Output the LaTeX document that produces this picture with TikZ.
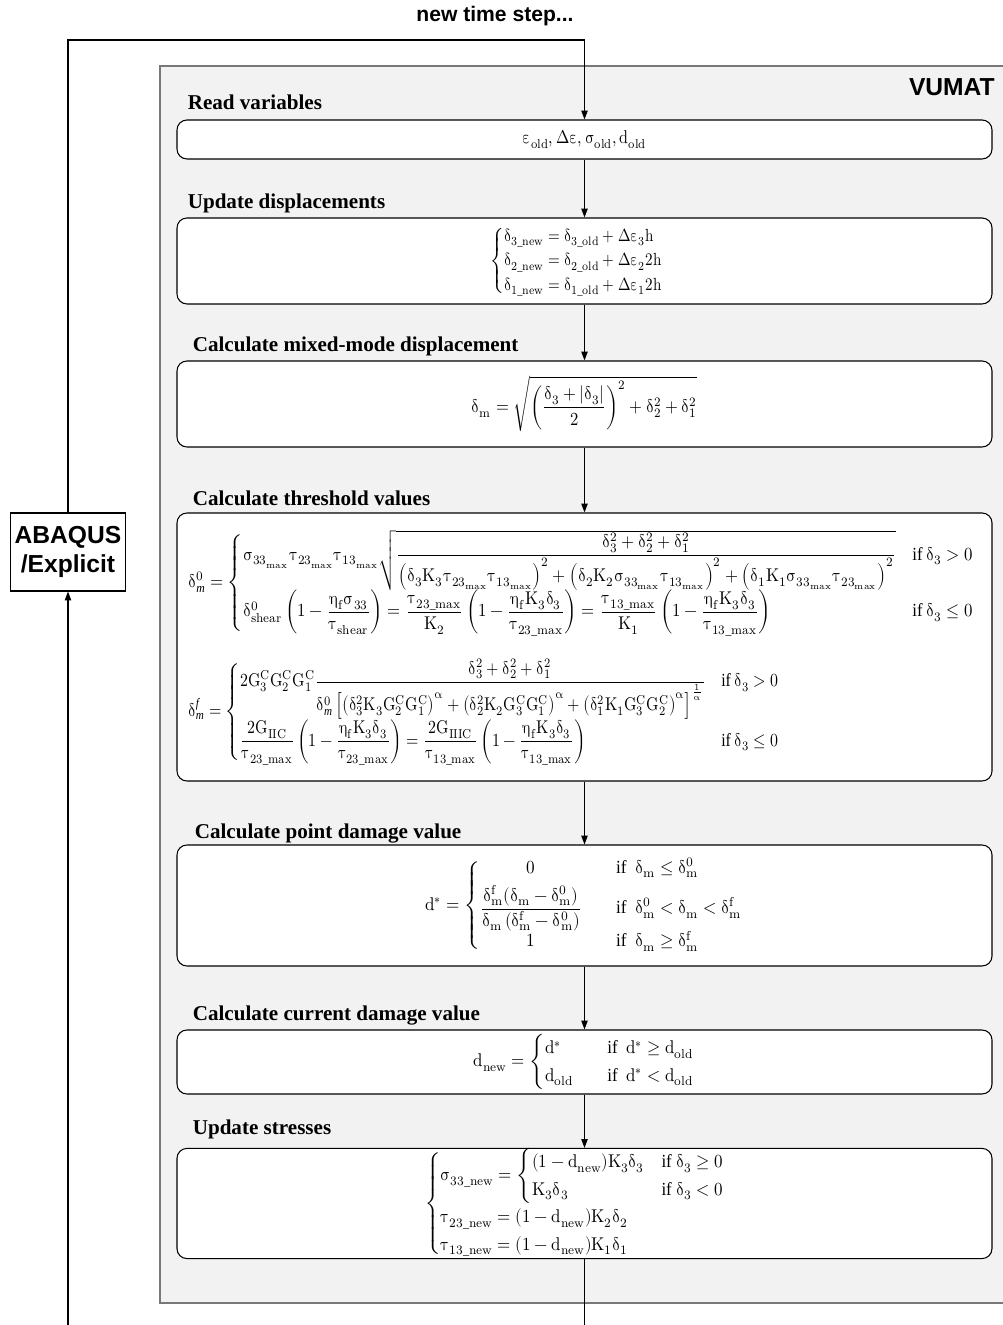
\documentclass[tikz,border=0pt]{standalone}
\usepackage{amsmath}
\usepackage{fontspec}
\usepackage[math-style=upright]{unicode-math}
\setmainfont{Liberation Serif}
\setmathfont{Latin Modern Math}
\newfontfamily\sansbf{Liberation Sans}
\usetikzlibrary{arrows.meta,positioning,calc}
\definecolor{PanelGray}{RGB}{242,242,242}
\definecolor{PanelEdge}{RGB}{120,120,120}
\newcommand{\squeeze}[2]{\scalebox{#1}[1]{#2}}

\tikzset{
  stepbox/.style={draw, fill=white, rounded corners=2mm, line width=0.6pt,
    minimum width=163mm, inner sep=0pt, font=\fontsize{10.5}{13}\selectfont},
  steptitle/.style={anchor=base west, inner sep=0pt,
    font=\fontsize{12}{14}\selectfont\bfseries},
  eqn/.style={anchor=west, inner sep=0pt, font=\fontsize{10.5}{13}\selectfont},
  flow/.style={line width=0.6pt, -{Triangle[length=5pt,width=3.6pt]}},
  loopline/.style={line width=0.6pt},
  sanslabel/.style={font=\sansbf\bfseries\fontsize{14}{17}\selectfont},
}

\begin{document}
\begin{tikzpicture}[x=0.2mm,y=0.2mm]
\useasboundingbox (0,0) rectangle (1003,1325);

% VUMAT panel
\draw[fill=PanelGray, draw=PanelEdge, line width=0.9pt] (160,22) rectangle (1010,1259);
\node[sanslabel, anchor=east, inner sep=0pt] (vumat) at (995,1238) {VUMAT};
\node[font=\sansbf\bfseries\fontsize{12}{14}\selectfont] (newstep) at (495,1309) {new time step...};

% solver box
\node[draw, fill=white, line width=0.6pt, sanslabel, align=center,
  minimum width=23mm, minimum height=15.6mm, inner sep=0pt] (abq) at (68,773) {ABAQUS\\/Explicit};

% steps
\node[stepbox, minimum height=7.8mm] (rd) at (584.5,1185.5)
  {\squeeze{0.87}{$\varepsilon_{old},\Delta\varepsilon,\sigma_{old},d_{old}$}};
\node[stepbox, minimum height=17.2mm, font=\fontsize{10}{11.5}\selectfont] (ud) at (584.5,1064)
  {\squeeze{0.86}{$\begin{cases}
   \delta_{3\_new}=\delta_{3\_old}+\Delta\varepsilon_3h\\
   \delta_{2\_new}=\delta_{2\_old}+\Delta\varepsilon_2 2h\\
   \delta_{1\_new}=\delta_{1\_old}+\Delta\varepsilon_1 2h
   \end{cases}$}};
\node[stepbox, minimum height=17.2mm] (mm) at (584.5,921)
  {\squeeze{0.9}{$\delta_m=\sqrt{\left(\dfrac{\delta_3+|\delta_3|}{2}\right)^2+\delta_2^2+\delta_1^2}$}};
\node[stepbox, minimum height=53.6mm] (th) at (584.5,678) {};
\node[stepbox, minimum height=24.2mm] (pd) at (584.5,419.5)
  {\squeeze{0.93}{$d^{*}=\left\{\begin{array}{@{}c@{\qquad}l@{}}
   0 & \text{if }\ \delta_m\le\delta_m^0\\[3pt]
   \dfrac{\delta_m^f(\delta_m-\delta_m^0)}{\delta_m\left(\delta_m^f-\delta_m^0\right)} & \text{if }\ \delta_m^0<\delta_m<\delta_m^f\\[6pt]
   1 & \text{if }\ \delta_m\ge\delta_m^f
   \end{array}\right.$}};
\node[stepbox, minimum height=12.8mm] (cd) at (584.5,263)
  {\squeeze{0.92}{$d_{new}=\begin{cases}
   d^{*} & \quad\text{if }\ d^{*}\ge d_{old}\\
   d_{old} & \quad\text{if }\ d^{*}<d_{old}
   \end{cases}$}\hspace{8mm}};
\node[stepbox, minimum height=21.8mm] (us) at (584.5,121.5)
  {\squeeze{0.92}{$\begin{cases}
   \sigma_{33\_new}=\begin{cases}(1-d_{new})K_3\delta_3 & \text{if } \delta_3\ge 0\\ K_3\delta_3 & \text{if } \delta_3<0\end{cases}\\
   \tau_{23\_new}=(1-d_{new})K_2\delta_2\\
   \tau_{13\_new}=(1-d_{new})K_1\delta_1
   \end{cases}$}};

% threshold formulas
\node[eqn] (th0) at (188,742)
  {\squeeze{0.91}{$\delta^{0}_{\mathit{m}}=\begin{cases}
   \sigma_{33_{max}}\tau_{23_{max}}\tau_{13_{max}}\sqrt{\dfrac{\delta_3^2+\delta_2^2+\delta_1^2}{\left(\delta_3K_3\tau_{23_{max}}\tau_{13_{max}}\right)^2+\left(\delta_2K_2\sigma_{33_{max}}\tau_{13_{max}}\right)^2+\left(\delta_1K_1\sigma_{33_{max}}\tau_{23_{max}}\right)^2}} & \text{if } \delta_3>0\\
   \delta^0_{shear}\left(1-\dfrac{\eta_f\sigma_{33}}{\tau_{shear}}\right)=\dfrac{\tau_{23\_max}}{K_2}\left(1-\dfrac{\eta_fK_3\delta_3}{\tau_{23\_max}}\right)=\dfrac{\tau_{13\_max}}{K_1}\left(1-\dfrac{\eta_fK_3\delta_3}{\tau_{13\_max}}\right) & \text{if } \delta_3\le 0
   \end{cases}$}};
\node[eqn] (thf) at (188,613)
  {\squeeze{0.86}{$\delta^{\mathit{f}}_{\mathit{m}}=\begin{cases}
   2G_3^CG_2^CG_1^C\dfrac{\delta_3^2+\delta_2^2+\delta_1^2}{\delta^0_{\mathit{m}}\left[\left(\delta_3^2K_3G_2^CG_1^C\right)^{\mitalpha}+\left(\delta_2^2K_2G_3^CG_1^C\right)^{\mitalpha}+\left(\delta_1^2K_1G_3^CG_2^C\right)^{\mitalpha}\right]^{\frac{1}{\mitalpha}}} & \text{if } \delta_3>0\\
   \dfrac{2G_{IIC}}{\tau_{23\_max}}\left(1-\dfrac{\eta_fK_3\delta_3}{\tau_{23\_max}}\right)=\dfrac{2G_{IIIC}}{\tau_{13\_max}}\left(1-\dfrac{\eta_fK_3\delta_3}{\tau_{13\_max}}\right) & \text{if } \delta_3\le 0
   \end{cases}$}};

% titles
\node[steptitle] (rdt) at ($(rd.north west)+(11,10)$) {Read variables};
\node[steptitle] (udt) at ($(ud.north west)+(11,9)$) {Update displacements};
\node[steptitle] (mmt) at ($(mm.north west)+(16,9)$) {Calculate mixed-mode displacement};
\node[steptitle] (tht) at ($(th.north west)+(16,7)$) {Calculate threshold values};
\node[steptitle] (pdt) at ($(pd.north west)+(18,6)$) {Calculate point damage value};
\node[steptitle] (cdt) at ($(cd.north west)+(16,9)$) {Calculate current damage value};
\node[steptitle] (ust) at ($(us.north west)+(16,13)$) {Update stresses};

% connectors
\coordinate (looptop) at (68,1285);
\coordinate (loopbot) at (68,0);
\coordinate (outbot) at (584.5,0);
\draw[flow] (abq.north) -- (looptop) -| (rd.north);
\foreach \a/\b in {rd/ud,ud/mm,mm/th,th/pd,pd/cd,cd/us}
  \draw[flow] (\a.south) -- (\b.north);
\draw[loopline] (us.south) -- (outbot);
\draw[flow] (loopbot) -- (abq.south);
\end{tikzpicture}
\end{document}
